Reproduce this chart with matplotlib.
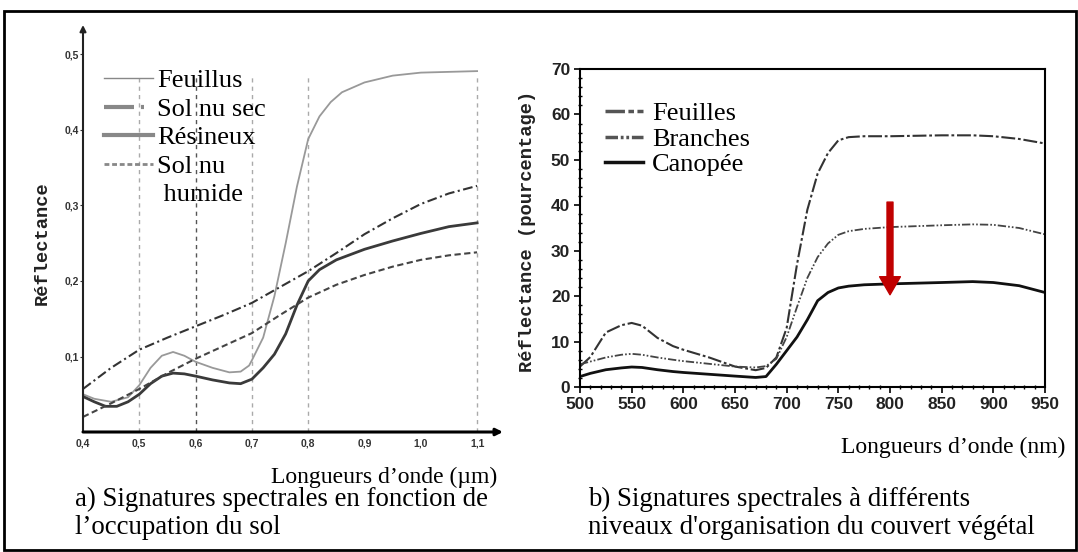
import numpy as np
import matplotlib.pyplot as plt
from matplotlib.lines import Line2D
from matplotlib.patches import Rectangle

plt.rcParams['lines.scale_dashes'] = False

W, H = 1078, 552

# ---- panel a : reflectance vs wavelength (um) ----
feuillus_x = [0.40, 0.42, 0.45, 0.48, 0.50, 0.52, 0.54, 0.56, 0.58, 0.60, 0.63, 0.66, 0.68,
              0.695, 0.70, 0.72, 0.74, 0.76, 0.78, 0.80, 0.82, 0.84, 0.86, 0.90, 0.95, 1.00, 1.10]
feuillus_y = [0.050, 0.044, 0.040, 0.046, 0.062, 0.085, 0.101, 0.106, 0.101, 0.093, 0.085, 0.079, 0.080,
              0.088, 0.095, 0.125, 0.180, 0.250, 0.325, 0.388, 0.418, 0.437, 0.450, 0.463, 0.472, 0.476, 0.478]

sol_sec_x = [0.40, 0.45, 0.50, 0.55, 0.60, 0.65, 0.70, 0.75, 0.80, 0.85, 0.90, 0.95, 1.00, 1.05, 1.10]
sol_sec_y = [0.057, 0.085, 0.109, 0.125, 0.140, 0.155, 0.171, 0.192, 0.213, 0.237, 0.262, 0.283, 0.302, 0.316, 0.326]

resineux_x = [0.40, 0.42, 0.44, 0.46, 0.48, 0.50, 0.52, 0.54, 0.56, 0.58, 0.60, 0.63, 0.66, 0.68, 0.70,
              0.72, 0.74, 0.76, 0.78, 0.80, 0.82, 0.85, 0.90, 0.95, 1.00, 1.05, 1.10]
resineux_y = [0.047, 0.040, 0.034, 0.034, 0.040, 0.050, 0.064, 0.074, 0.078, 0.077, 0.074, 0.069, 0.065, 0.064, 0.070,
              0.085, 0.103, 0.130, 0.168, 0.200, 0.215, 0.228, 0.242, 0.253, 0.263, 0.272, 0.277]

sol_hum_x = [0.40, 0.45, 0.50, 0.55, 0.60, 0.65, 0.70, 0.75, 0.80, 0.85, 0.90, 0.95, 1.00, 1.05, 1.10]
sol_hum_y = [0.020, 0.038, 0.057, 0.078, 0.097, 0.114, 0.131, 0.155, 0.178, 0.195, 0.208, 0.219, 0.228, 0.234, 0.238]

guide_x = [0.5, 0.6, 0.7, 0.8, 1.1]
guide_top = 0.473
a_xticks = [0.4, 0.5, 0.6, 0.7, 0.8, 0.9, 1.0, 1.1]
a_yticks = [0.1, 0.2, 0.3, 0.4, 0.5]
a_labels = ['Feuillus', 'Sol nu sec', 'Résineux', 'Sol nu', ' humide']

# ---- panel b : reflectance (%) vs wavelength (nm) ----
wl_b = [500, 510, 525, 540, 550, 560, 575, 590, 600, 625, 650, 670, 680, 690, 700,
        710, 720, 730, 740, 750, 760, 775, 800, 850, 880, 900, 925, 950]
feuilles = [4.5, 6.6, 12.0, 13.6, 14.1, 13.5, 10.8, 9.0, 8.2, 6.5, 4.5, 3.7, 4.2, 6.5, 13.0,
            27.0, 39.0, 47.0, 51.5, 54.3, 55.0, 55.2, 55.2, 55.4, 55.4, 55.2, 54.6, 53.6]
branches = [5.0, 5.6, 6.5, 7.1, 7.3, 7.1, 6.5, 6.0, 5.7, 5.1, 4.5, 4.3, 4.6, 6.2, 11.0,
            17.6, 24.0, 28.6, 31.6, 33.5, 34.3, 34.8, 35.2, 35.6, 35.8, 35.7, 35.0, 33.6]
canopee = [2.3, 3.0, 3.8, 4.2, 4.4, 4.3, 3.8, 3.4, 3.2, 2.8, 2.4, 2.1, 2.3, 5.0, 8.0,
           11.0, 14.8, 19.0, 20.8, 21.8, 22.2, 22.5, 22.7, 23.0, 23.2, 23.0, 22.3, 20.8]
b_labels = ['Feuilles', 'Branches', 'Canopée']
arrow_x, arrow_from, arrow_to = 800, 40.7, 20.3


def px(x, y):
    # figure pixel (from top-left) -> figure fraction
    return x / W, 1 - y / H


fig = plt.figure(figsize=(W / 100, H / 100), dpi=100)
serif = 'Liberation Serif'
mono = 'Liberation Mono'

# outer frame
fig.patches.append(Rectangle(px(4, 550), 1072 / W, 539 / H, transform=fig.transFigure,
                             fill=False, lw=2, ec='black'))

# ---------------- panel a ----------------
ax = fig.add_axes([83 / W, 120 / H, 420 / W, 407 / H])
ax.set_xlim(0.4, 0.4 + 420 / 563)
ax.set_ylim(0, 407 / 755)
for s in ax.spines.values():
    s.set_visible(False)

for g in guide_x:
    ax.vlines(g, 0, guide_top, color='#555555' if g == 0.6 else '#aaaaaa',
              lw=1, linestyles=(0, (3, 3)))

ax.plot(feuillus_x, feuillus_y, color='#999999', lw=1.3)
ax.plot(sol_sec_x, sol_sec_y, color='#333333', lw=1.5, linestyle=(0, (7, 2.5, 1.5, 2.5)))
ax.plot(resineux_x, resineux_y, color='#3a3a3a', lw=2)
ax.plot(sol_hum_x, sol_hum_y, color='#444444', lw=1.5, linestyle=(0, (4.5, 2.5)))

ax.annotate('', xy=(0, 1), xytext=(0, 0), xycoords='axes fraction',
            arrowprops=dict(arrowstyle='-|>', lw=1.5, color='#222222', mutation_scale=9,
                            shrinkA=0, shrinkB=0))
ax.annotate('', xy=(1, 0), xytext=(0, 0), xycoords='axes fraction',
            arrowprops=dict(arrowstyle='-|>', lw=2.2, color='black', mutation_scale=10,
                            shrinkA=0, shrinkB=0))

tick_font = dict(family='Liberation Sans', weight='bold', size=7.5, color='#333333')
ax.set_xticks(a_xticks)
ax.set_xticklabels([f'{v:.1f}'.replace('.', ',') for v in a_xticks], **tick_font)
ax.set_yticks(a_yticks)
ax.set_yticklabels([f'{v:.1f}'.replace('.', ',') for v in a_yticks], **tick_font)
ax.tick_params(axis='y', length=2, pad=1, color='#333333')
ax.tick_params(axis='x', length=0, pad=5)

handles_a = [
    Line2D([], [], color='#888888', lw=1),
    Line2D([], [], color='#888888', lw=3, linestyle=(0, (21.6, 5, 2.2, 20))),
    Line2D([], [], color='#888888', lw=3),
    Line2D([], [], color='#888888', lw=2, linestyle=(0, (3.5, 2))),
    Line2D([], [], color='none'),
]
ax.legend(handles_a, a_labels, loc='upper left', bbox_to_anchor=px(104, 69),
          bbox_transform=fig.transFigure, frameon=False, borderpad=0, borderaxespad=0,
          handlelength=1.86, handletextpad=0.15, labelspacing=0.19,
          prop=dict(family=serif, size=19))

fig.text(*px(42, 243), 'Réflectance', rotation=90, family=mono, weight='bold', size=13.5,
         ha='center', va='center', color='#222222')
fig.text(*px(497, 477), 'Longueurs d’onde (µm)', family=serif, size=17, ha='right', va='center')

# ---------------- panel b ----------------
bx = fig.add_axes([580 / W, 165 / H, 465 / W, 318 / H])
bx.set_xlim(500, 950)
bx.set_ylim(0, 70)
bx.plot(wl_b, feuilles, color='#333333', lw=1.5, linestyle=(0, (10, 2, 2, 2)))
bx.plot(wl_b, branches, color='#444444', lw=1.3, linestyle=(0, (6, 1.5, 1.2, 1.5, 1.2, 1.5)))
bx.plot(wl_b, canopee, color='#111111', lw=2)
for s in bx.spines.values():
    s.set_linewidth(1.5)

bx.annotate('', xy=(arrow_x, arrow_to), xytext=(arrow_x, arrow_from),
            arrowprops=dict(facecolor='#c00000', edgecolor='#c00000', width=4.3,
                            headwidth=15, headlength=13, shrink=0))

b_font = dict(family='Liberation Sans', weight='bold', size=12.5, color='#222222')
bx.set_xticks(range(500, 951, 50))
bx.set_xticklabels([str(v) for v in range(500, 951, 50)], **b_font)
bx.set_yticks(range(0, 71, 10))
bx.set_yticklabels([str(v) for v in range(0, 71, 10)], **b_font)
bx.set_xticks(range(500, 951, 10), minor=True)
bx.set_yticks(range(0, 71, 2), minor=True)
bx.tick_params(which='major', direction='out', length=4, width=1.2, pad=3)
bx.tick_params(which='minor', direction='inout', length=3, width=1)

handles_b = [
    Line2D([], [], color='#555555', lw=2.5, linestyle=(0, (14, 2.5, 4, 2.5))),
    Line2D([], [], color='#555555', lw=2.5, linestyle=(0, (9, 2, 2, 2, 2, 2))),
    Line2D([], [], color='#111111', lw=2.5),
]
bx.legend(handles_b, b_labels, loc='upper left', bbox_to_anchor=px(605, 102),
          bbox_transform=fig.transFigure, frameon=False, borderpad=0, borderaxespad=0,
          handlelength=1.44, handletextpad=0.34, labelspacing=0.07,
          prop=dict(family=serif, size=19))

fig.text(*px(528, 231), 'Réflectance (pourcentage)', rotation=90, family=mono, weight='bold',
         size=13.5, ha='center', va='center', color='#222222')
fig.text(*px(1065, 447), 'Longueurs d’onde (nm)', family=serif, size=17, ha='right', va='center')

# captions
fig.text(*px(75, 499), 'a) Signatures spectrales en fonction de', family=serif, size=19.4, va='center')
fig.text(*px(75, 527), 'l’occupation du sol', family=serif, size=19.4, va='center')
fig.text(*px(588, 499), 'b) Signatures spectrales à différents', family=serif, size=19.4, va='center')
fig.text(*px(588, 527), "niveaux d'organisation du couvert végétal", family=serif, size=19.4, va='center')

fig.savefig('out.png', dpi=100)
